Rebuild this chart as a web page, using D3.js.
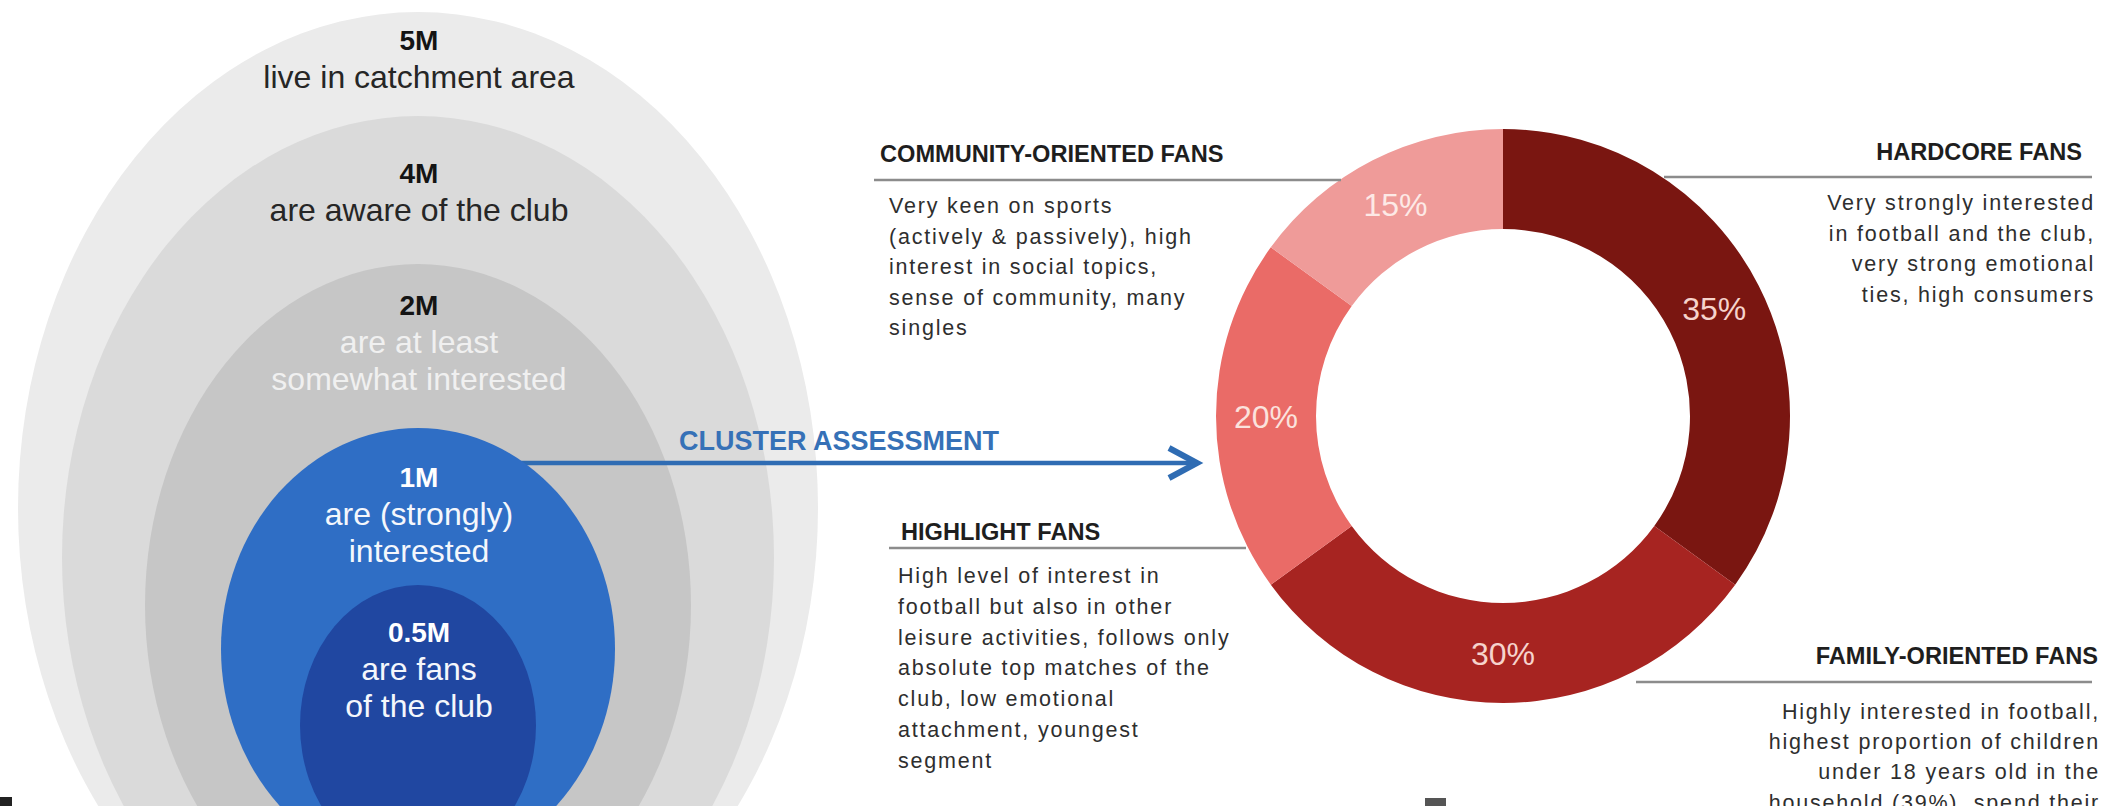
<!DOCTYPE html>
<html lang="en">

<head>
    <meta charset="UTF-8">
    <title>Fan funnel and cluster assessment</title>
    <script src="https://d3js.org/d3.v7.min.js"></script>
    <style>
        body { margin: 0; background: #fff; }
        text { font-family: "Liberation Sans", Arial, sans-serif; }
    </style>
</head>

<body>
    <script>
        // funnel (left side)
        var funnelMillions = [5, 4, 2, 1, 0.5];
        var funnelValueLabels = ["5M", "4M", "2M", "1M", "0.5M"];
        var funnelDescriptions = [
            ["live in catchment area"],
            ["are aware of the club"],
            ["are at least", "somewhat interested"],
            ["are (strongly)", "interested"],
            ["are fans", "of the club"]
        ];

        // fan segments (donut)
        var segmentNames = ["HARDCORE FANS", "FAMILY-ORIENTED FANS", "HIGHLIGHT FANS", "COMMUNITY-ORIENTED FANS"];
        var segmentShares = [35, 30, 20, 15];
        var segmentDescriptions = [
            ["Very strongly interested", "in football and the club,", "very strong emotional", "ties, high consumers"],
            ["Highly interested in football,", "highest proportion of children", "under 18 years old in the", "household (39%), spend their"],
            ["High level of interest in", "football but also in other", "leisure activities, follows only", "absolute top matches of the", "club, low emotional", "attachment,  youngest", "segment"],
            ["Very keen on sports", "(actively & passively), high", "interest in social topics,", "sense of community,  many", "singles"]
        ];

        var width = 2116, height = 806;

        var svg = d3.select("body")
            .append("svg")
            .attr("width", width)
            .attr("height", height);

        // ---- funnel ellipses ----
        var ringFill = ["#ebebeb", "#dadada", "#c6c6c6", "#2f6ec5", "#2047a1"];
        var ringTop = [12, 116, 264, 428, 585];
        var ringStretch = [1.24, 1.24, 1.25, 1.12, 1.19];
        var numberFill = ["#141414", "#141414", "#141414", "#ffffff", "#ffffff"];
        var descFill = ["#262626", "#262626", "#f0f0f0", "#f4f7fc", "#f4f7fc"];
        var numberBaseline = [50, 183, 315, 487, 642];

        var cx = 418;
        var ringRadius = d3.scaleLinear()
            .domain([0.5, 1, 2, 4, 5])
            .range([118, 197, 273, 356, 400]);

        function drawRings(layer, values, offset) {
            layer.selectAll("ellipse")
                .data(values)
                .enter()
                .append("ellipse")
                .attr("cx", cx)
                .attr("cy", function (d, i) { return ringTop[i + offset] + ringRadius(d) * ringStretch[i + offset]; })
                .attr("rx", function (d) { return ringRadius(d); })
                .attr("ry", function (d, i) { return ringRadius(d) * ringStretch[i + offset]; })
                .attr("fill", function (d, i) { return ringFill[i + offset]; });
        }

        // grey rings, then the arrow, then the blue rings on top of it
        drawRings(svg.append("g"), funnelMillions.slice(0, 3), 0);

        var arrowY = 463, arrowTip = 1197;
        var arrow = svg.append("g");

        arrow.append("line")
            .attr("x1", cx)
            .attr("x2", arrowTip - 3)
            .attr("y1", arrowY)
            .attr("y2", arrowY)
            .attr("stroke", "#2f6cb3")
            .attr("stroke-width", 4.5);

        arrow.append("path")
            .attr("d", "M" + (arrowTip - 28) + "," + (arrowY - 15) + "L" + arrowTip + "," + arrowY + "L" + (arrowTip - 28) + "," + (arrowY + 15))
            .attr("fill", "none")
            .attr("stroke", "#2f6cb3")
            .attr("stroke-width", 6);

        drawRings(svg.append("g"), funnelMillions.slice(3), 3);

        svg.append("text")
            .attr("x", 679)
            .attr("y", 450)
            .attr("font-size", 27)
            .attr("font-weight", "bold")
            .attr("fill", "#3671b7")
            .text("CLUSTER ASSESSMENT");

        var funnelLabels = svg.append("g")
            .attr("text-anchor", "middle");

        funnelMillions.forEach(function (m, i) {
            funnelLabels.append("text")
                .attr("x", cx + 1)
                .attr("y", numberBaseline[i])
                .attr("font-size", 28)
                .attr("font-weight", "bold")
                .attr("fill", numberFill[i])
                .text(funnelValueLabels[i]);

            funnelDescriptions[i].forEach(function (line, j) {
                funnelLabels.append("text")
                    .attr("x", cx + 1)
                    .attr("y", numberBaseline[i] + 38 + j * 37)
                    .attr("font-size", 32)
                    .attr("fill", descFill[i])
                    .text(line);
            });
        });

        // ---- donut ----
        var dcx = 1503, dcy = 416, outerR = 287, innerR = 187;
        var segmentFill = ["#7a1611", "#a72421", "#ea6b67", "#ef9b99"];
        var shareFill = ["#f6d3cc", "#f6d3cc", "#fbe2dd", "#fde9e6"];

        var pie = d3.pie().sort(null).value(function (d) { return d; });
        var arc = d3.arc().innerRadius(innerR).outerRadius(outerR);

        var donut = svg.append("g")
            .attr("transform", "translate(" + dcx + "," + dcy + ")");

        var arcs = pie(segmentShares);

        donut.selectAll("path")
            .data(arcs)
            .enter()
            .append("path")
            .attr("d", arc)
            .attr("fill", function (d, i) { return segmentFill[i]; });

        donut.selectAll("text")
            .data(arcs)
            .enter()
            .append("text")
            .attr("transform", function (d) { return "translate(" + arc.centroid(d) + ")"; })
            .attr("dy", "0.36em")
            .attr("text-anchor", "middle")
            .attr("font-size", 32)
            .attr("fill", function (d, i) { return shareFill[i]; })
            .text(function (d) { return d.data + "%"; });

        // ---- callouts ----
        var callouts = [
            { anchor: "end", hx: 2082, hy: 160, lx1: 1664, lx2: 2092, ly: 177, bx: 2095, by: 210, step: 30.7 },
            { anchor: "end", hx: 2098, hy: 664, lx1: 1636, lx2: 2092, ly: 682, bx: 2100, by: 719, step: 30.2 },
            { anchor: "start", hx: 901, hy: 540, lx1: 889, lx2: 1246, ly: 548, bx: 898, by: 583, step: 30.8 },
            { anchor: "start", hx: 880, hy: 162, lx1: 874, lx2: 1341, ly: 180, bx: 889, by: 213, step: 30.5 }
        ];

        segmentNames.forEach(function (name, i) {
            var c = callouts[i];
            var g = svg.append("g").attr("text-anchor", c.anchor);

            g.append("line")
                .attr("x1", c.lx1)
                .attr("x2", c.lx2)
                .attr("y1", c.ly)
                .attr("y2", c.ly)
                .attr("stroke", "#8c8c8c")
                .attr("stroke-width", 2.5);

            g.append("text")
                .attr("x", c.hx)
                .attr("y", c.hy)
                .attr("font-size", 23.6)
                .attr("font-weight", "bold")
                .attr("fill", "#1e1e1e")
                .text(name);

            segmentDescriptions[i].forEach(function (line, j) {
                g.append("text")
                    .attr("x", c.bx)
                    .attr("y", c.by + j * c.step)
                    .attr("font-size", 21.5)
                    .attr("letter-spacing", 1.8)
                    .attr("fill", "#2e2e2e")
                    .text(line);
            });
        });

        // bits of the next slide showing at the bottom edge
        svg.append("rect")
            .attr("x", 1425).attr("y", 798).attr("width", 21).attr("height", 8)
            .attr("fill", "#555");
        svg.append("rect")
            .attr("x", 0).attr("y", 797).attr("width", 12).attr("height", 9)
            .attr("fill", "#222");
    </script>
</body>

</html>
